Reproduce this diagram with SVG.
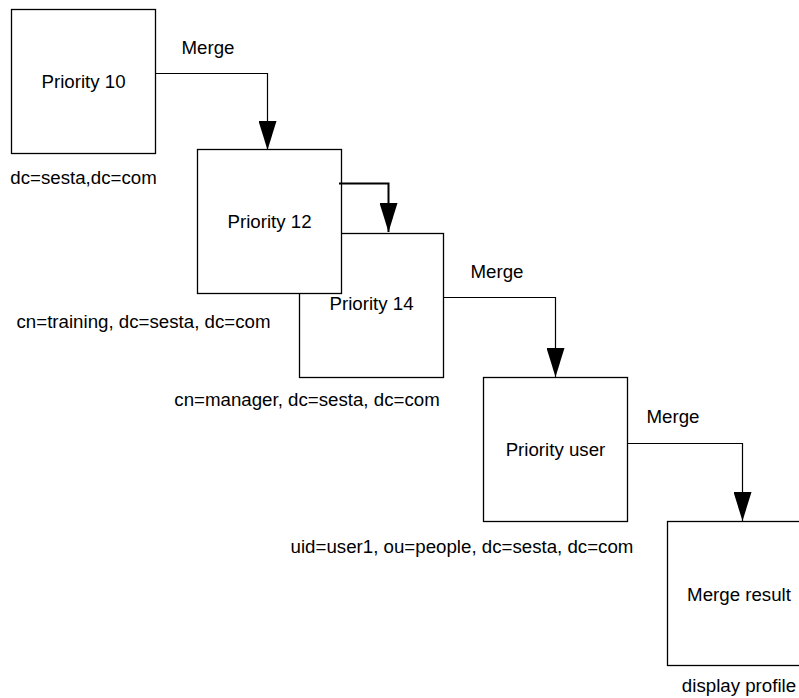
<svg xmlns="http://www.w3.org/2000/svg" width="799" height="698" viewBox="0 0 799 698">
  <style>
    .box { fill: #ffffff; stroke: #000000; stroke-width: 1.3; }
    .lbl { font-family: "Liberation Sans", Arial, sans-serif; font-size: 18.7px; fill: #000000; text-anchor: middle; }
    .wire { fill: none; stroke: #000000; stroke-width: 1.2; marker-end: url(#head); }
  </style>
  <defs>
    <marker id="head" markerUnits="userSpaceOnUse" markerWidth="18" markerHeight="30" viewBox="0 0 18 30" refX="9" refY="29" orient="0">
      <path d="M0,0 L18,0 L9,29 Z" fill="#000000"/>
    </marker>
  </defs>
  <rect width="799" height="698" fill="#ffffff"/>

  <g id="node-priority-10">
    <rect class="box" x="11.5" y="9.5" width="144" height="144"/>
    <text class="lbl" x="83.5" y="88">Priority 10</text>
    <text class="lbl" x="83.5" y="184">dc=sesta,dc=com</text>
  </g>

  <g id="node-priority-14">
    <rect class="box" x="299.5" y="233.5" width="144" height="144"/>
    <text class="lbl" x="371.5" y="310">Priority 14</text>
    <text class="lbl" x="307" y="406">cn=manager, dc=sesta, dc=com</text>
  </g>

  <g id="node-priority-12">
    <rect class="box" x="197.5" y="149.5" width="144" height="144"/>
    <text class="lbl" x="269.5" y="228">Priority 12</text>
    <text class="lbl" x="143.5" y="328">cn=training, dc=sesta, dc=com</text>
  </g>

  <g id="node-priority-user">
    <rect class="box" x="483.5" y="377.5" width="144" height="144"/>
    <text class="lbl" x="555.5" y="456">Priority user</text>
    <text class="lbl" x="462" y="553">uid=user1, ou=people, dc=sesta, dc=com</text>
  </g>

  <g id="node-merge-result">
    <rect class="box" x="667.5" y="521.5" width="144" height="144"/>
    <text class="lbl" x="739" y="601">Merge result</text>
    <text class="lbl" x="739" y="692">display profile</text>
  </g>

  <g id="connectors">
    <path class="wire" d="M155.5,73.5 H267.5 V150"/>
    <path class="wire" d="M339,183.5 H388.5 V232" style="stroke-width:2"/>
    <path class="wire" d="M443.5,297.5 H555.5 V377"/>
    <path class="wire" d="M627.5,443.5 H742.5 V521"/>
    <text class="lbl" x="208" y="54">Merge</text>
    <text class="lbl" x="497" y="278">Merge</text>
    <text class="lbl" x="673" y="423">Merge</text>
  </g>
</svg>
